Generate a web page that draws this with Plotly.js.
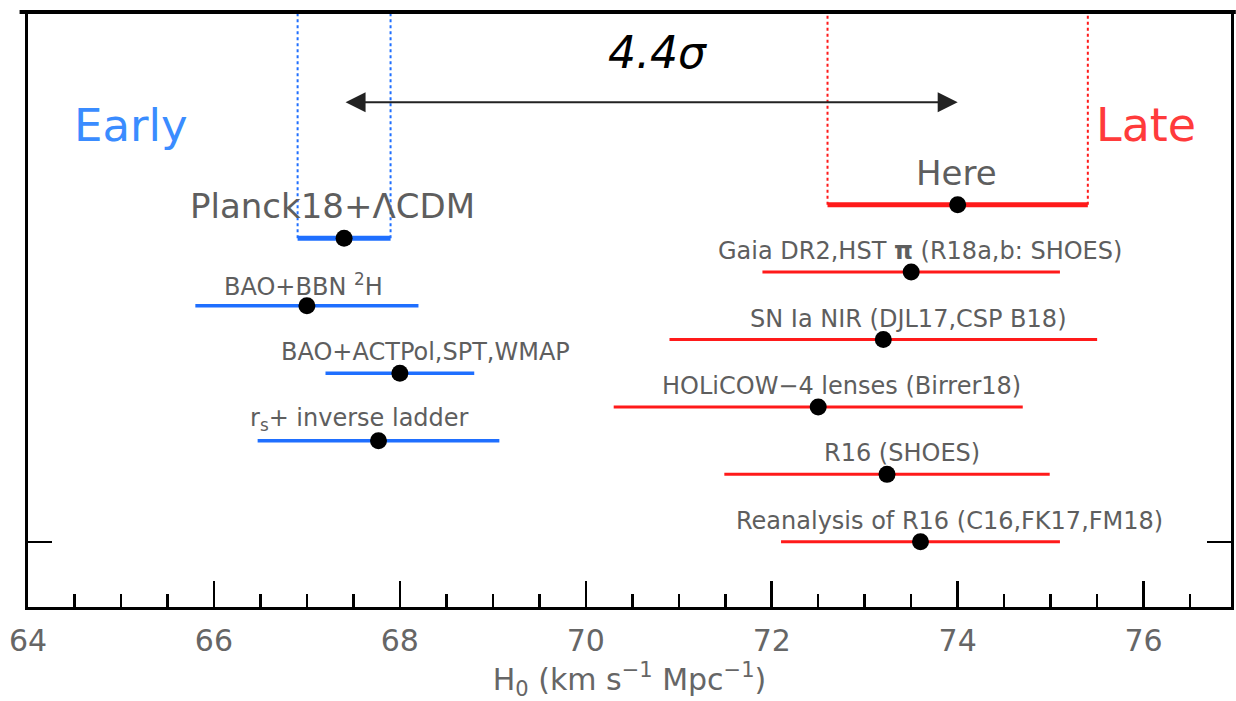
<!DOCTYPE html>
<html>
<head>
<meta charset="utf-8">
<script src="https://cdn.plot.ly/plotly-3.0.1.min.js"></script>
<style>html,body{margin:0;padding:0;background:#fff;}#chart{width:1236px;height:701px;}</style>
</head>
<body>
<div id="chart"></div>
<script>
// ---- data ----
var earlyLabels = ['Planck18+ΛCDM', 'BAO+BBN <sup>2</sup>H', 'BAO+ACTPol,SPT,WMAP', 'r<sub>s</sub>+ inverse ladder'];
var earlyH0 = [67.4, 67.0, 68.0, 67.77];
var earlyErr = [0.5, 1.2, 0.8, 1.3];
var earlyRow = [5.5, 4.5, 3.5, 2.5];

var lateLabels = ['Here', 'Gaia DR2,HST <b>π</b> (R18a,b: SHOES)', 'SN Ia NIR (DJL17,CSP B18)', 'HOLiCOW−4 lenses (Birrer18)', 'R16 (SHOES)', 'Reanalysis of R16 (C16,FK17,FM18)'];
var lateH0 = [74.0, 73.5, 73.2, 72.5, 73.24, 73.6];
var lateErr = [1.4, 1.6, 2.3, 2.2, 1.75, 1.5];
var lateRow = [6, 5, 4, 3, 2, 1];

var tensionText = '<i>4.4σ</i>';
var xTickVals = [64, 66, 68, 70, 72, 74, 76];

// ---- layout helpers (positions of text labels, not data) ----
var earlyLabelX = [67.28, 66.96, 68.28, 67.57];
var lateLabelX = [73.99, 73.59, 73.47, 72.75, 73.40, 73.91];

var BLUE = '#1f6fff', RED = '#ff1a1a', GREY = '#5e5e5e';
var FONT = 'DejaVu Sans, sans-serif';
var yTop = 8.857, yBot = 0.033;

function pointTrace(xs, errs, ys, color, thick) {
  return {
    type: 'scatter', mode: 'markers', x: xs, y: ys,
    error_x: {type: 'data', array: errs, visible: true, color: color, thickness: thick, width: 0},
    marker: {color: '#000', size: 17},
    hoverinfo: 'x', showlegend: false, cliponaxis: false
  };
}

var traces = [
  pointTrace(earlyH0.slice(1), earlyErr.slice(1), earlyRow.slice(1), BLUE, 3.5),
  pointTrace(lateH0.slice(1), lateErr.slice(1), lateRow.slice(1), RED, 3),
  pointTrace([earlyH0[0]], [earlyErr[0]], [earlyRow[0]], BLUE, 5),
  pointTrace([lateH0[0]], [lateErr[0]], [lateRow[0]], RED, 5)
];

var annotations = [];
earlyLabels.forEach(function (t, i) {
  annotations.push({x: earlyLabelX[i], y: earlyRow[i], text: t, showarrow: false,
    yshift: i === 0 ? 32 : 21, font: {family: FONT, size: i === 0 ? 34 : 24, color: GREY}});
});
lateLabels.forEach(function (t, i) {
  annotations.push({x: lateLabelX[i], y: lateRow[i], text: t, showarrow: false,
    yshift: i === 0 ? 32 : 21, font: {family: FONT, size: i === 0 ? 34 : 24, color: GREY}});
});
// tension arrow between Planck and Here
var arrowY = 7.52;
annotations.push({x: lateH0[0], y: arrowY, ax: earlyH0[0], ay: arrowY, axref: 'x', ayref: 'y',
  xref: 'x', yref: 'y', text: '', showarrow: true, arrowside: 'end+start', arrowhead: 2,
  arrowsize: 2, arrowwidth: 2, arrowcolor: '#222', standoff: 0, startstandoff: 0});
annotations.push({x: 70.77, y: 8.26, text: tensionText, showarrow: false,
  font: {family: FONT, size: 44, color: '#000'}});
annotations.push({x: 65.11, y: 7.18, text: 'Early', showarrow: false,
  font: {family: FONT, size: 45, color: '#3a8cff'}});
annotations.push({x: 76.03, y: 7.18, text: 'Late', showarrow: false,
  font: {family: FONT, size: 46, color: '#ff3b3b'}});

var shapes = [
  {type: 'line', xref: 'x', yref: 'y', x0: earlyH0[0] - earlyErr[0], x1: earlyH0[0] - earlyErr[0], y0: earlyRow[0], y1: yTop, line: {color: BLUE, width: 2, dash: 'dot'}},
  {type: 'line', xref: 'x', yref: 'y', x0: earlyH0[0] + earlyErr[0], x1: earlyH0[0] + earlyErr[0], y0: earlyRow[0], y1: yTop, line: {color: BLUE, width: 2, dash: 'dot'}},
  {type: 'line', xref: 'x', yref: 'y', x0: lateH0[0] - lateErr[0], x1: lateH0[0] - lateErr[0], y0: lateRow[0], y1: yTop, line: {color: RED, width: 2, dash: 'dot'}},
  {type: 'line', xref: 'x', yref: 'y', x0: lateH0[0] + lateErr[0], x1: lateH0[0] + lateErr[0], y0: lateRow[0], y1: yTop, line: {color: RED, width: 2, dash: 'dot'}},
  {type: 'line', xref: 'paper', yref: 'paper', x0: -0.007, x1: 1.004, y0: 1, y1: 1, line: {color: '#000', width: 4}}
];

var layout = {
  width: 1236, height: 701,
  margin: {l: 28, r: 5, t: 12, b: 94},
  paper_bgcolor: '#fff', plot_bgcolor: '#fff',
  font: {family: FONT, color: GREY},
  xaxis: {
    range: [64, 76.94], showgrid: false, zeroline: false,
    showline: true, linecolor: '#000', linewidth: 3, mirror: false,
    tickmode: 'array', tickvals: xTickVals, ticks: 'inside', ticklen: 26, tickwidth: 2.5, tickcolor: '#000',
    minor: {dtick: 0.5, tick0: 64, ticks: 'inside', ticklen: 13, tickwidth: 2.5, tickcolor: '#000', showgrid: false},
    tickfont: {family: FONT, size: 30, color: '#666'}, ticklabelstandoff: 5,
    title: {text: 'H<sub>0</sub> (km s<sup>−1</sup> Mpc<sup>−1</sup>)', font: {family: FONT, size: 30, color: '#666'}, standoff: 4}
  },
  yaxis: {
    range: [yBot, yTop], showgrid: false, zeroline: false,
    showline: true, linecolor: '#000', linewidth: 3, mirror: 'ticks',
    tickmode: 'array', tickvals: [1], ticktext: [''], ticks: 'inside', ticklen: 24, tickwidth: 2.5, tickcolor: '#000',
    showticklabels: false
  },
  annotations: annotations,
  shapes: shapes,
  showlegend: false
};

Plotly.newPlot('chart', traces, layout, {displayModeBar: false, staticPlot: true});
</script>
</body>
</html>
